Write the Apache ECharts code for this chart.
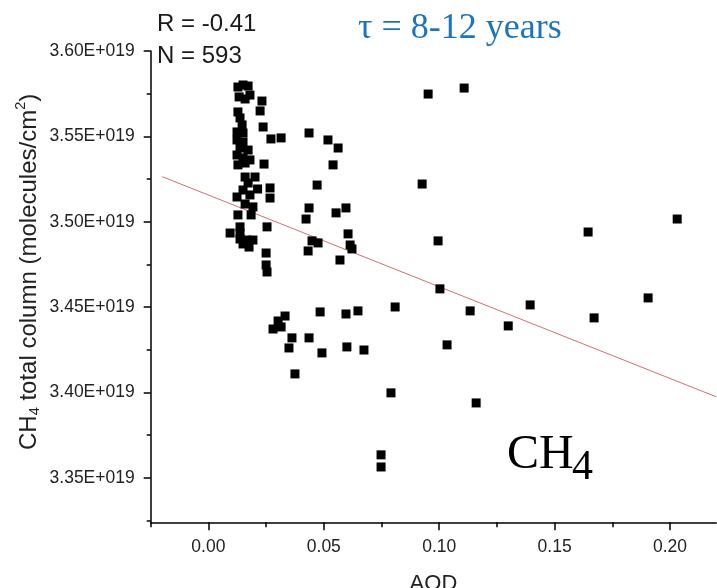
<!DOCTYPE html>
<html><head><meta charset="utf-8">
<script src="https://cdn.jsdelivr.net/npm/echarts@6/dist/echarts.min.js"></script>
<style>html,body{margin:0;padding:0;background:#fff;}#c{width:717px;height:588px;}</style>
</head><body><div id="c"></div>
<script>
// AOD values and CH4 total column (units of 1E+019 molecules/cm2)
const aod = [
 0.0128,0.0150,0.0172,0.0133,0.0180,0.0159,0.0128,0.0137,0.0146,0.0124,
 0.0150,0.0124,0.0150,0.0137,0.0172,0.0124,0.0150,0.0180,0.0128,0.0159,
 0.0159,0.0202,0.0172,0.0150,0.0213,0.0124,0.0180,0.0159,0.0193,0.0128,
 0.0185,0.0137,0.0094,0.0137,0.0137,0.0167,0.0193,0.0150,0.0176,
 0.0232,0.0224,0.0237,0.0271,0.0315,0.0241,0.0267,0.0267,0.0254,0.0250,0.0250,0.0254,
 0.0332,0.0302,0.0315,0.0280,0.0362,0.0349,0.0375,
 0.0436,0.0518,0.0562,0.0540,0.0471,0.0436,0.0423,0.0553,0.0596,0.0605,
 0.0449,0.0475,0.0432,0.0614,0.0622,0.0570,0.0484,0.0596,0.0648,0.0436,
 0.0492,0.0600,0.0674,
 0.0809,0.0791,0.0748,0.0748,0.0926,0.0952,0.0995,0.1003,0.1034,0.1108,
 0.1134,0.1160,0.1299,0.1394,0.1645,0.1671,0.1905,0.2031
];
const ch4 = [
 3.5789,3.5801,3.5795,3.5731,3.5742,3.5719,3.5643,3.5608,3.5567,3.5526,
 3.5520,3.5479,3.5467,3.5432,3.5420,3.5391,3.5374,3.5362,3.5333,3.5344,
 3.5262,3.5262,3.5227,3.5186,3.5192,3.5145,3.5157,3.5104,3.5087,3.5040,
 3.5040,3.4970,3.4934,3.4934,3.4899,3.4893,3.4893,3.4870,3.4852,
 3.5707,3.5649,3.5555,3.5485,3.5491,3.5338,3.5198,3.5139,3.4970,3.4817,3.4747,3.4706,
 3.4448,3.4419,3.4384,3.4372,3.4320,3.4261,3.4109,
 3.5520,3.5479,3.5432,3.5333,3.5215,3.5081,3.5016,3.5052,3.5081,3.4929,
 3.4888,3.4876,3.4829,3.4864,3.4841,3.4776,3.4472,3.4460,3.4478,3.4320,
 3.4232,3.4267,3.4249,
 3.4501,3.3998,3.3635,3.3564,3.5221,3.5748,3.4888,3.4607,3.4279,3.5783,
 3.4478,3.3939,3.4390,3.4513,3.4940,3.4437,3.4554,3.5016
];
const fitX = [-0.02, 0.22];
const fitY = [3.5264, 3.3975];
const xTicks = [0, 0.05, 0.10, 0.15, 0.20];
const xMinorTicks = [-0.025, 0.025, 0.075, 0.125, 0.175];
const yTicks = [3.35, 3.40, 3.45, 3.50, 3.55, 3.60];
const yMinorTicks = [3.325, 3.375, 3.425, 3.475, 3.525, 3.575];

const SANS = '"Liberation Sans", Arial, sans-serif';
const SERIF = '"Liberation Serif", "Times New Roman", serif';

const mctx = document.createElement('canvas').getContext('2d');
function tw(t, size){ mctx.font = size + 'px "Liberation Sans"'; return mctx.measureText(t).width; }

const TF = 24, TS = 14.5;
const w1 = tw('CH', TF), w2 = tw('4', TS), w3 = tw(' total column (molecules/cm', TF), w4 = tw('2', TS);

function txt(x, y, text, size, family, fill, extra){
  return Object.assign({type:'text', x:x, y:y, style:{text:text, fontSize:size, fontFamily:family, fill:fill,
    align:'left', verticalAlign:'middle', textAlign:'left', textVerticalAlign:'middle'}}, extra||{});
}

const chart = echarts.init(document.getElementById('c'));
chart.setOption({
  animation:false,
  backgroundColor:'#fff',
  grid:{left:150.7, top:51, width:565.5, height:471.3, containLabel:false, outerBoundsMode:'none'},
  xAxis:[
    {type:'value', min:-0.025, max:0.22, position:'bottom',
     axisLine:{show:true, onZero:false, lineStyle:{color:'#000', width:1.5}},
     axisTick:{show:true, inside:false, length:8, customValues:xTicks, lineStyle:{color:'#000', width:1.5}},
     axisLabel:{customValues:xTicks, formatter:v=>v.toFixed(2), fontSize:17.5, fontFamily:SANS, color:'#222', margin:16},
     splitLine:{show:false},
     name:'AOD', nameLocation:'middle', nameGap:51, nameTextStyle:{fontSize:22, fontFamily:SANS, color:'#222'}},
    {type:'value', min:-0.025, max:0.22, position:'bottom',
     axisLine:{show:false, onZero:false},
     axisTick:{show:true, inside:false, length:5, customValues:xMinorTicks, lineStyle:{color:'#000', width:1.5}},
     axisLabel:{show:false}, splitLine:{show:false}}
  ],
  yAxis:[
    {type:'value', min:3.324, max:3.60, position:'left',
     axisLine:{show:true, onZero:false, lineStyle:{color:'#000', width:1.5}},
     axisTick:{show:true, inside:false, length:7, customValues:yTicks, lineStyle:{color:'#000', width:1.5}},
     axisLabel:{customValues:yTicks, formatter:v=>v.toFixed(2)+'E+019', fontSize:17.5, fontFamily:SANS, color:'#222', margin:16},
     splitLine:{show:false}},
    {type:'value', min:3.324, max:3.60, position:'left',
     axisLine:{show:false, onZero:false},
     axisTick:{show:true, inside:false, length:4, customValues:yMinorTicks, lineStyle:{color:'#000', width:1.5}},
     axisLabel:{show:false}, splitLine:{show:false}}
  ],
  series:[
    {type:'line', xAxisIndex:0, yAxisIndex:0, data:fitX.map((x,i)=>[x, fitY[i]]), symbol:'none',
     lineStyle:{color:'#c87272', width:1}, silent:true, z:1},
    {type:'scatter', xAxisIndex:0, yAxisIndex:0, data:aod.map((x,i)=>[x, ch4[i]]), symbol:'rect', symbolSize:9,
     itemStyle:{color:'#000', opacity:1}, z:2}
  ],
  graphic:[
    txt(157, 24, 'R = -0.41', 24, SANS, '#1a1a1a'),
    txt(157, 56.5, 'N = 593', 24, SANS, '#1a1a1a'),
    txt(358, 29, '\u03c4 = 8-12 years', 36, SERIF, '#1b75bc'),
    txt(507, 455, 'CH', 48, SERIF, '#000'),
    txt(572, 468, '4', 42, SERIF, '#000'),
    {type:'group', x:29, y:450, rotation:Math.PI/2, children:[
      txt(0, 0, 'CH', TF, SANS, '#222'),
      txt(w1, 6, '4', TS, SANS, '#222'),
      txt(w1+w2, 0, ' total column (molecules/cm', TF, SANS, '#222'),
      txt(w1+w2+w3, -8, '2', TS, SANS, '#222'),
      txt(w1+w2+w3+w4, 0, ')', TF, SANS, '#222')
    ]}
  ]
});
</script>
</body></html>
